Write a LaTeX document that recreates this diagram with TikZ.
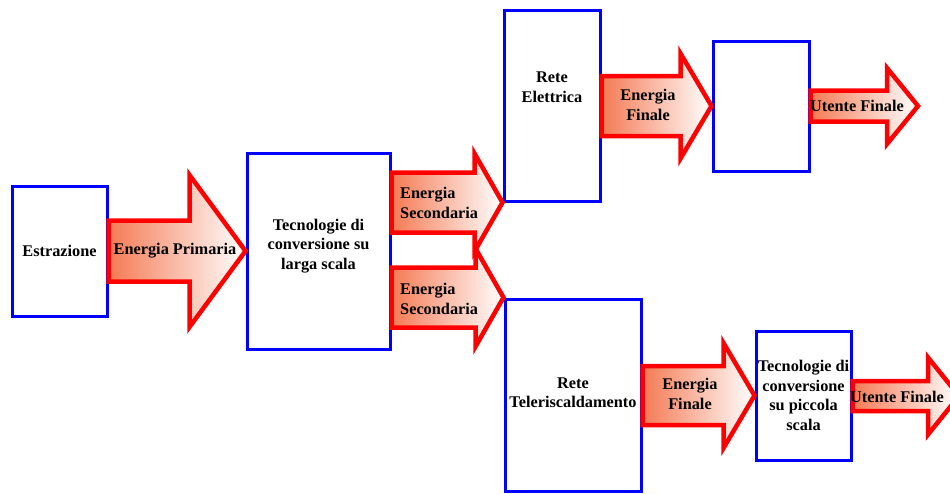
\documentclass[tikz,border=0pt]{standalone}
\usepackage{fontspec}
\setmainfont{Liberation Serif}
\usetikzlibrary{calc}
\definecolor{freccia}{RGB}{244,122,84}
\definecolor{bordo}{RGB}{0,0,255}
% block arrow: #1 start, #2 tip, #3 body half height, #4 head half height, #5 head length
\newcommand{\freccia}[5]{%
\draw[frec] let \p1=(#1), \p2=(#2) in
  (\x1,\y2+#3)--(\x2-#5,\y2+#3)--(\x2-#5,\y2+#4)--(\x2,\y2)--(\x2-#5,\y2-#4)--(\x2-#5,\y2-#3)--(\x1,\y2-#3)--cycle;}
\begin{document}
\begin{tikzpicture}[x=1pt,y=-1pt,font=\bfseries\fontsize{16.3}{19.5}\selectfont,
  blk/.style={draw=bordo,line width=3pt,align=center,inner sep=0pt},
  frec/.style={draw=red,line width=4.5pt,line join=miter,left color=freccia,right color=white},
  txt/.style={align=center,inner sep=0pt}]
\useasboundingbox (0,0) rectangle (950,493);

\node[blk,minimum width=95,minimum height=130] (estr) at (59.5,251) {Estrazione};
\node[blk,minimum width=143,minimum height=196] (tecgr) at (318.5,251) {};
\node[txt] (ttecgr) at (318.5,246) {Tecnologie di\\conversione su\\larga scala};
\node[blk,minimum width=96,minimum height=191] (retel) at (552,105.5) {};
\node[txt] (tretel) at (552,87) {Rete\\Elettrica};
\node[blk,minimum width=96,minimum height=130] (utel) at (761,106) {};
\node[blk,minimum width=136,minimum height=192] (retet) at (573,395) {};
\node[txt] (tretet) at (573,392.5) {Rete\\Teleriscaldamento};
\node[blk,minimum width=95,minimum height=129] (tecpc) at (803.5,395.5) {Tecnologie di\\conversione\\su piccola\\scala};
\coordinate (fine1) at (918,106);
\coordinate (fine2) at (959,396);

\freccia{estr.east}{tecgr.west}{30.5pt}{76pt}{56pt}
\freccia{tecgr.east}{retel.south west}{30pt}{49pt}{28pt}
\freccia{tecgr.east}{retet.north west}{30pt}{49pt}{28pt}
\freccia{retel.east}{utel.west}{30pt}{52.5pt}{31pt}
\freccia{utel.east}{fine1}{15.5pt}{38pt}{31pt}
\freccia{retet.east}{tecpc.west}{29.5pt}{52.5pt}{31pt}
\freccia{tecpc.east}{fine2}{15pt}{38.5pt}{31pt}

\node[txt] (eprim) at (175,251) {Energia Primaria};
\node[txt,anchor=west,align=left] (esec1) at (400,203) {Energia\\Secondaria};
\node[txt,anchor=west,align=left] (esec2) at (400,299) {Energia\\Secondaria};
\node[txt] (efin1) at (648,105) {Energia\\Finale};
\node[txt] (ute1) at (857,106) {Utente Finale};
\node[txt] (efin2) at (690,394) {Energia\\Finale};
\node[txt] (ute2) at (897,397) {Utente Finale};
\end{tikzpicture}
\end{document}
